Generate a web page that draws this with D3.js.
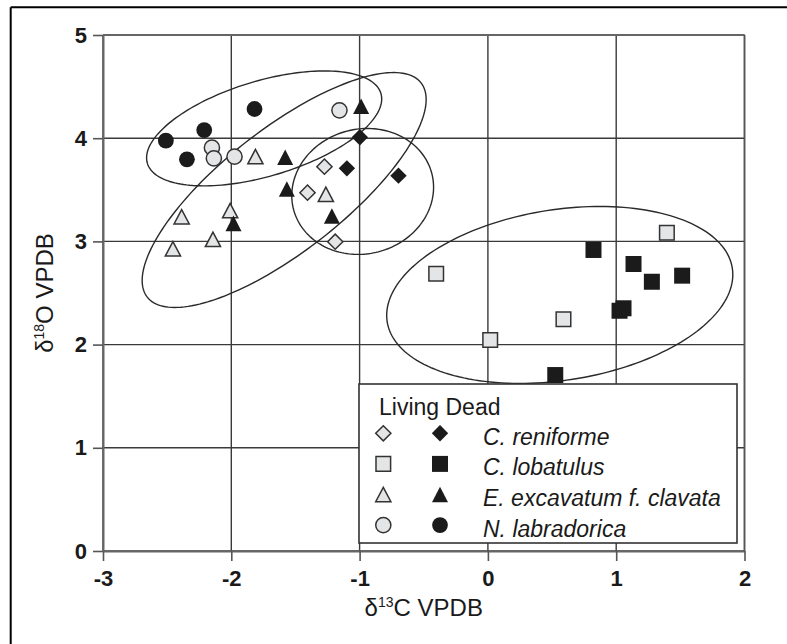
<!DOCTYPE html>
<html>
<head>
<meta charset="utf-8">
<script src="https://cdn.jsdelivr.net/npm/d3@7/dist/d3.min.js"></script>
<style>
  html, body { margin: 0; padding: 0; background: #fff; }
  svg { display: block; }
  text { font-family: "Liberation Sans", Arial, Helvetica, sans-serif; fill: #1a1a1a; }
</style>
</head>
<body>
<svg id="chart" width="787" height="644"></svg>
<script>
// ---------- data ----------
const xTicks = [-3, -2, -1, 0, 1, 2];
const yTicks = [0, 1, 2, 3, 4, 5];
const species = ["C. reniforme", "C. lobatulus", "E. excavatum f. clavata", "N. labradorica"];
const speciesShapes = ["diamond", "square", "triangle", "circle"];
const legendHeader = "Living Dead";
const xTitleMain = ["δ", "13", "C VPDB"];
const yTitleMain = ["δ", "18", "O VPDB"];

// [δ13C, δ18O]
const reniformeLiving = [[-1.274, 3.724], [-1.406, 3.472], [-1.190, 2.997]];
const reniformeDead = [[-0.998, 4.009], [-1.099, 3.708], [-0.697, 3.637]];
const lobatulusLiving = [[1.395, 3.084], [-0.403, 2.687], [0.589, 2.245], [0.018, 2.045]];
const lobatulusDead = [[0.823, 2.917], [1.135, 2.781], [1.278, 2.609], [1.514, 2.668], [1.026, 2.328], [1.057, 2.352], [0.525, 1.705]];
const excavatumLiving = [[-1.812, 3.821], [-2.387, 3.239], [-2.009, 3.298], [-2.143, 3.020], [-2.455, 2.929], [-1.263, 3.456]];
const excavatumDead = [[-0.988, 4.31], [-1.580, 3.815], [-1.567, 3.508], [-1.983, 3.175], [-1.216, 3.246]];
const labradoricaLiving = [[-1.157, 4.27], [-2.151, 3.908], [-2.136, 3.805], [-1.975, 3.821]];
const labradoricaDead = [[-2.510, 3.976], [-2.211, 4.079], [-2.346, 3.795], [-1.819, 4.283]];

// ellipses (data units): centre and two conjugate semi-axes
const ellipseCentreX = [-1.744, -1.588, -0.976, 0.560];
const ellipseCentreY = [4.095, 3.498, 3.484, 2.481];
const ellipseAxisA = [[0.910, 0.339], [1.067, 1.038], [0.539, 0.1735], [1.345, 0.260]];
const ellipseAxisB = [[0.1066, -0.4418], [0.294, -0.467], [0.1217, -0.585], [0.102, -0.817]];

(function () {
// ---------- layout ----------
const svg = d3.select("#chart");
const pL = 103, pR = 744.5, pT = 35, pB = 551;
const x = d3.scaleLinear().domain([-3, 2]).range([pL, pR]);
const y = d3.scaleLinear().domain([0, 5]).range([pB, pT]);

// outer frame (top and left edges only)
svg.append("line").attr("x1", 10.7).attr("x2", 787).attr("y1", 7.3).attr("y2", 7.3)
  .attr("stroke", "#000").attr("stroke-width", 2);
svg.append("line").attr("x1", 10.7).attr("x2", 10.7).attr("y1", 7.3).attr("y2", 644)
  .attr("stroke", "#000").attr("stroke-width", 2);

// grid
const gridCol = "#3a3a3a";
svg.append("g").selectAll("line").data(xTicks).join("line")
  .attr("x1", d => x(d)).attr("x2", d => x(d)).attr("y1", pT).attr("y2", pB)
  .attr("stroke", gridCol).attr("stroke-width", 1.4);
svg.append("g").selectAll("line").data(yTicks).join("line")
  .attr("x1", pL).attr("x2", pR).attr("y1", d => y(d)).attr("y2", d => y(d))
  .attr("stroke", gridCol).attr("stroke-width", 1.4);

// axes
const fmt = d => String(d);
const gx = svg.append("g").attr("transform", `translate(0,${pB})`)
  .call(d3.axisBottom(x).tickValues(xTicks).tickSize(10).tickSizeOuter(0).tickPadding(9).tickFormat(fmt));
const gy = svg.append("g").attr("transform", `translate(${pL},0)`)
  .call(d3.axisLeft(y).tickValues(yTicks).tickSize(10).tickSizeOuter(0).tickPadding(6).tickFormat(fmt));
[gx, gy].forEach(g => {
  g.select(".domain").attr("stroke", "#666").attr("stroke-width", 2);
  g.selectAll(".tick line").attr("stroke", "#555").attr("stroke-width", 1.6);
  g.selectAll(".tick text").style("font-size", "22px").style("font-weight", "bold")
    .style("font-family", "Liberation Sans, Arial, sans-serif").attr("fill", "#222");
});
// top and right plot border
svg.append("line").attr("x1", pL).attr("x2", pR).attr("y1", pT).attr("y2", pT)
  .attr("stroke", "#666").attr("stroke-width", 2);
svg.append("line").attr("x1", pR).attr("x2", pR).attr("y1", pT).attr("y2", pB)
  .attr("stroke", "#555").attr("stroke-width", 1.6);

// ellipses
const ts = d3.range(0, 2 * Math.PI, Math.PI / 90);
const ell = svg.append("g");
ellipseCentreX.forEach((cx, i) => {
  const cy = ellipseCentreY[i], a = ellipseAxisA[i], b = ellipseAxisB[i];
  const pts = ts.map(t => [cx + a[0] * Math.cos(t) + b[0] * Math.sin(t), cy + a[1] * Math.cos(t) + b[1] * Math.sin(t)]);
  ell.append("path")
    .attr("d", d3.line().x(p => x(p[0])).y(p => y(p[1])).curve(d3.curveLinearClosed)(pts))
    .attr("fill", "none").attr("stroke", "#2a2a2a").attr("stroke-width", 1.4);
});

// marker shapes
function shapePath(type, dead) {
  const p = d3.path();
  if (type === "diamond") {
    const r = dead ? 8.2 : 7.6;
    p.moveTo(0, -r); p.lineTo(r, 0); p.lineTo(0, r); p.lineTo(-r, 0); p.closePath();
  } else if (type === "square") {
    const h = dead ? 8 : 7.3;
    p.rect(-h, -h, 2 * h, 2 * h);
  } else if (type === "triangle") {
    const w = dead ? 8 : 7.6, hh = dead ? 7.8 : 7.2;
    p.moveTo(0, -hh); p.lineTo(w, hh); p.lineTo(-w, hh); p.closePath();
  } else {
    const r = dead ? 7.9 : 7.6;
    p.moveTo(r, 0); p.arc(0, 0, r, 0, 2 * Math.PI);
  }
  return p.toString();
}
const livingFill = "#e4e5e6", livingStroke = "#333", deadFill = "#1b1b1b";

const groups = [
  [reniformeLiving, "diamond", false], [reniformeDead, "diamond", true],
  [lobatulusLiving, "square", false], [lobatulusDead, "square", true],
  [excavatumLiving, "triangle", false], [excavatumDead, "triangle", true],
  [labradoricaLiving, "circle", false], [labradoricaDead, "circle", true]
];
const pg = svg.append("g");
groups.forEach(([arr, shape, dead]) => {
  pg.selectAll(null).data(arr).join("path")
    .attr("transform", d => `translate(${x(d[0])},${y(d[1])})`)
    .attr("d", shapePath(shape, dead))
    .attr("fill", dead ? deadFill : livingFill)
    .attr("stroke", dead ? "none" : livingStroke)
    .attr("stroke-width", 1.5);
});

// legend
const lg = svg.append("g");
lg.append("rect").attr("x", 359).attr("y", 384).attr("width", 378).attr("height", 159)
  .attr("fill", "#fff").attr("stroke", "#333").attr("stroke-width", 1.6);
lg.append("text").attr("x", 379).attr("y", 415).style("font-size", "23px").text(legendHeader);
species.forEach((s, i) => {
  const ry = 433.3 + i * 30.6;
  lg.append("path").attr("transform", `translate(383.3,${ry})`).attr("d", shapePath(speciesShapes[i], false))
    .attr("fill", livingFill).attr("stroke", livingStroke).attr("stroke-width", 1.5);
  lg.append("path").attr("transform", `translate(440,${ry})`).attr("d", shapePath(speciesShapes[i], true))
    .attr("fill", deadFill);
  lg.append("text").attr("x", 483).attr("y", ry + 11.5).style("font-size", "23px")
    .style("font-style", "italic").text(s);
});

// axis titles
const xt = svg.append("text").attr("x", (pL + pR) / 2).attr("y", 616)
  .attr("text-anchor", "middle").style("font-size", "24px");
xt.append("tspan").text(xTitleMain[0]);
xt.append("tspan").attr("dy", -9).style("font-size", "14px").text(xTitleMain[1]);
xt.append("tspan").attr("dy", 9).text(xTitleMain[2]);

const yt = svg.append("text").attr("transform", `translate(53,${(pT + pB) / 2}) rotate(-90)`)
  .attr("text-anchor", "middle").style("font-size", "24px");
yt.append("tspan").text(yTitleMain[0]);
yt.append("tspan").attr("dy", -9).style("font-size", "14px").text(yTitleMain[1]);
yt.append("tspan").attr("dy", 9).text(yTitleMain[2]);
})();
</script>
</body>
</html>
